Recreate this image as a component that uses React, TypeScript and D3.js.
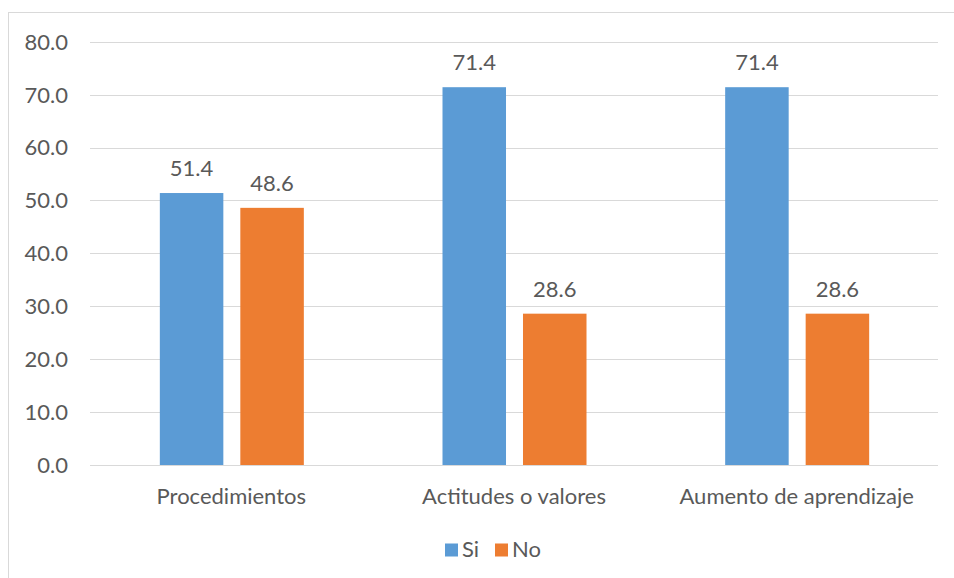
import React from "react";
import * as d3 from "d3";

const categories = ["Procedimientos", "Actitudes o valores", "Aumento de aprendizaje"];
const seriesNames = ["Si", "No"];
const siValues = [51.4, 71.4, 71.4];
const noValues = [48.6, 28.6, 28.6];
const yTicks = [0, 10, 20, 30, 40, 50, 60, 70, 80];
const colors = ["#5B9BD5", "#ED7D31"];

const W = 954;
const H = 578;
const FONT = "Lato, 'Open Sans', sans-serif";
const TEXT = "#595959";

export default function App() {
  const x = d3.scaleBand<string>().domain(categories).range([90, 938]).padding(0);
  const inner = d3
    .scaleBand<string>()
    .domain(seriesNames)
    .range([-71.5, 72.5])
    .paddingInner(0.211)
    .paddingOuter(0);
  const y = d3.scaleLinear().domain([0, 80]).range([465, 41.7]);
  const series = [siValues, noValues];

  return (
    <svg
      width={W}
      height={H}
      style={{ position: "absolute", left: 0, top: 0, background: "#fff" }}
      fontFamily={FONT}
    >
      <rect x={8.5} y={12.5} width={1000} height={1000} fill="#fff" stroke="#d9d9d9" strokeWidth={1} />
      {yTicks.map((t) => (
        <g key={t}>
          <line x1={90} x2={938} y1={Math.round(y(t)) + 0.5} y2={Math.round(y(t)) + 0.5} stroke="#d9d9d9" strokeWidth={1} />
          <text x={68} y={y(t)} dy="0.36em" textAnchor="end" fontSize={22} fill={TEXT}>
            {t.toFixed(1)}
          </text>
        </g>
      ))}
      {categories.map((c, i) => {
        const cx = (x(c) as number) + x.bandwidth() / 2;
        return (
          <g key={c}>
            {seriesNames.map((s, j) => {
              const v = series[j][i];
              const bx = cx + (inner(s) as number);
              return (
                <g key={s}>
                  <rect x={bx} y={y(v)} width={inner.bandwidth()} height={y(0) - y(v)} fill={colors[j]} />
                  <text x={bx + inner.bandwidth() / 2} y={y(v) - 17} textAnchor="middle" fontSize={22} fill={TEXT}>
                    {v.toFixed(1)}
                  </text>
                </g>
              );
            })}
            <text x={cx} y={504} textAnchor="middle" fontSize={22} fill={TEXT}>
              {c}
            </text>
          </g>
        );
      })}
      <g>
        <rect x={445} y={543.5} width={13} height={13} fill={colors[0]} />
        <text x={462} y={557} fontSize={22} fill={TEXT}>{seriesNames[0]}</text>
        <rect x={495} y={543.5} width={13} height={13} fill={colors[1]} />
        <text x={512} y={557} fontSize={22} fill={TEXT}>{seriesNames[1]}</text>
      </g>
    </svg>
  );
}
